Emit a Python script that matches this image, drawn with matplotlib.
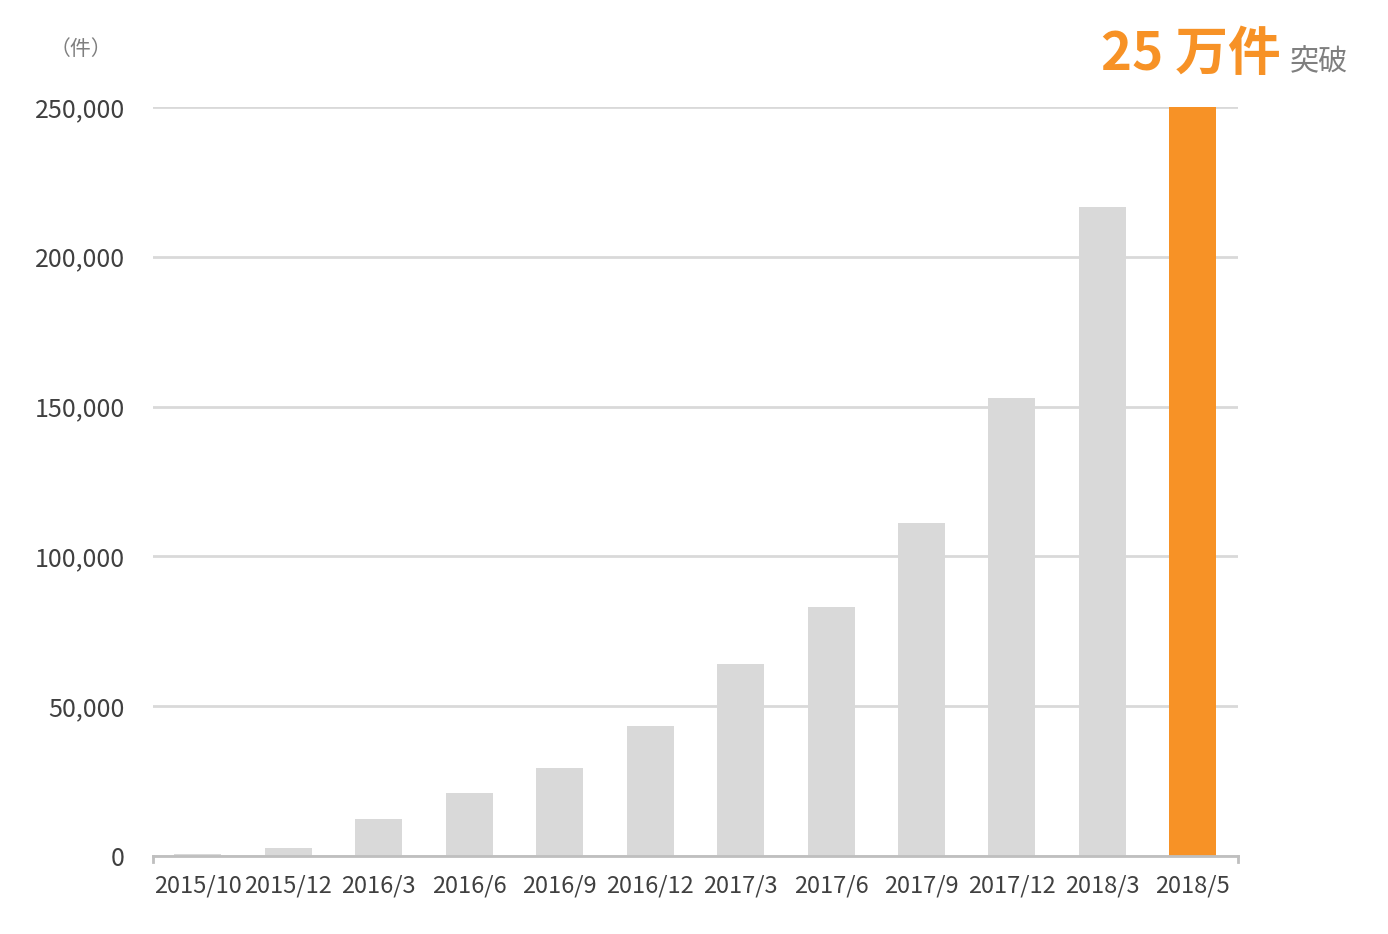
import matplotlib
matplotlib.use("Agg")
from matplotlib import pyplot as plt

plt.rcParams['font.family'] = ['Noto Sans CJK JP', 'DejaVu Sans']

months = ["2015/10", "2015/12", "2016/3", "2016/6", "2016/9", "2016/12",
          "2017/3", "2017/6", "2017/9", "2017/12", "2018/3", "2018/5"]
counts = [700, 2700, 12300, 21000, 29400, 43400,
          64100, 83100, 111100, 152900, 216600, 250000]
yticks = [0, 50000, 100000, 150000, 200000, 250000]

gray = "#d9d9d9"
orange = "#f79226"
text_col = "#404040"

fig = plt.figure(figsize=(13.88, 9.34), dpi=100)
ax = fig.add_axes([0.110, 0.0835, 0.782, 0.802])

colors = [gray] * (len(months) - 1) + [orange]
x = range(len(months))
ax.bar(x, counts, width=0.52, color=colors, zorder=3)

ax.set_xlim(-0.5, len(months) - 0.5)
ax.set_ylim(0, 250000)
ax.set_yticks(yticks)
ax.set_yticklabels([f"{v:,}" for v in yticks])
ax.set_xticks(list(x))
ax.set_xticklabels(months)
ax.grid(axis="y", color=gray, linewidth=2, zorder=0)
ax.tick_params(axis="both", length=0, labelcolor=text_col)
ax.tick_params(axis="y", pad=20, labelsize=18)
ax.tick_params(axis="x", pad=13, labelsize=17)

for s in ["top", "right", "left"]:
    ax.spines[s].set_visible(False)
ax.spines["bottom"].set_color("#bfbfbf")
ax.spines["bottom"].set_linewidth(2)
ax.spines["bottom"].set_zorder(4)
# little end ticks on the x axis
ax.plot([-0.5, -0.5], [0, -2000], color="#bfbfbf", lw=2, clip_on=False)
ax.plot([11.5, 11.5], [0, -2000], color="#bfbfbf", lw=2, clip_on=False)

fig.text(0.036, 0.948, "（件）", fontsize=15, color="#7f7f7f", va="center")
fig.text(0.793, 0.925, "25 万件", fontsize=38, fontweight="bold", color=orange,
         va="baseline")
fig.text(0.929, 0.925, "突破", fontsize=21, color="#7f7f7f", va="baseline")

plt.savefig("out.png")
